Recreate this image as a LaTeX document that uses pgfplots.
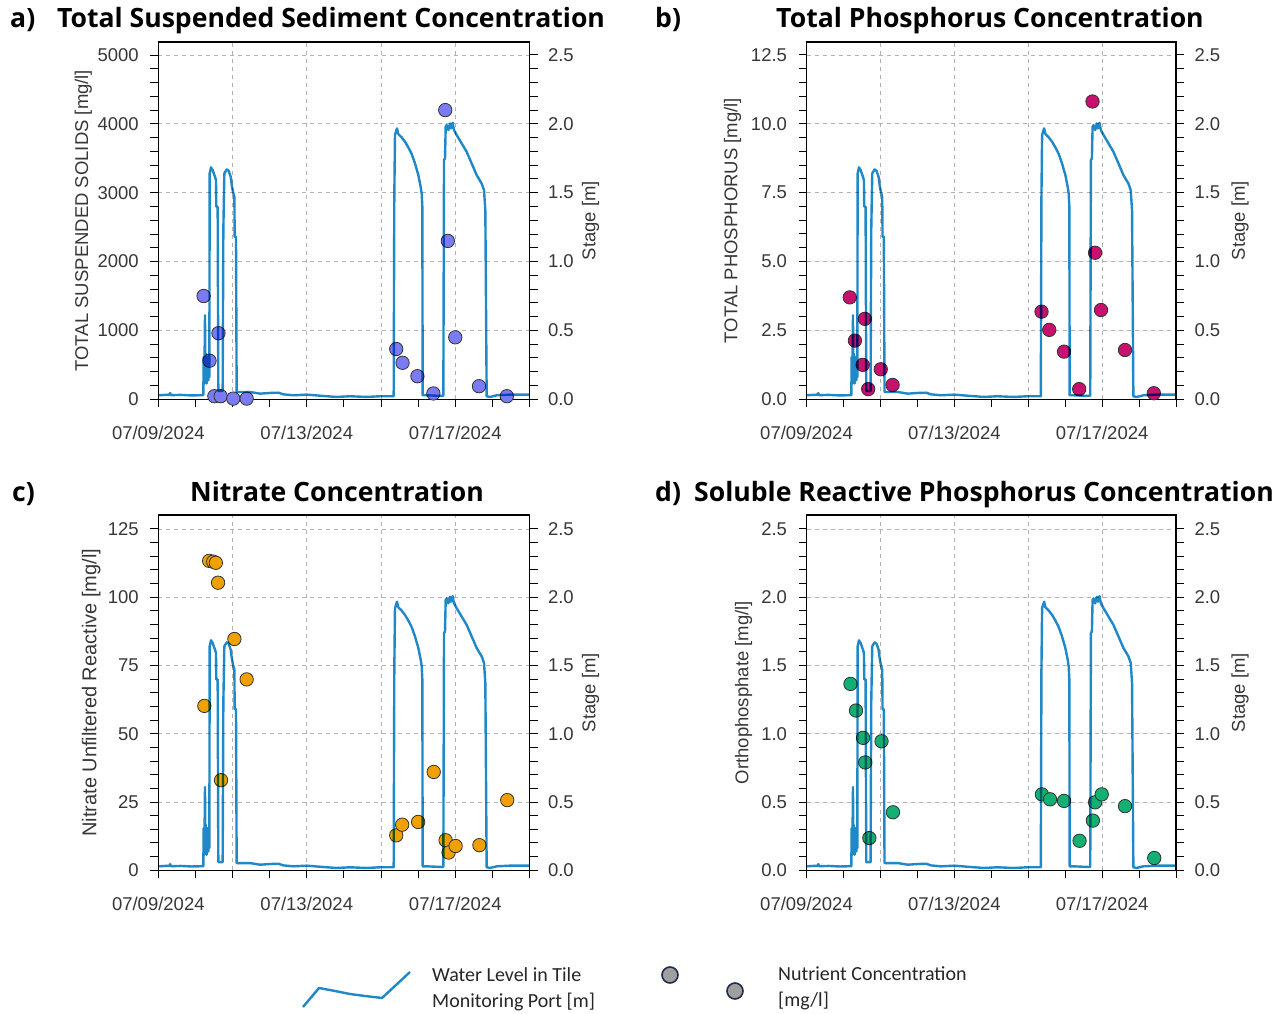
\documentclass[border=0pt]{standalone}
\usepackage{fontspec}
\setmainfont{Liberation Sans}
\newfontfamily\titlefont{Open Sans}
\newfontfamily\legfont{Carlito}
\usepackage{pgfplots}
\pgfplotsset{compat=1.18}
\usepackage{pgfplotstable}

\definecolor{lvl}{RGB}{30,136,200}
\definecolor{ptA}{RGB}{123,123,245}
\definecolor{ptB}{RGB}{200,16,110}
\definecolor{ptC}{RGB}{240,160,0}
\definecolor{ptD}{RGB}{20,175,115}
\definecolor{tickc}{RGB}{55,55,55}

\pgfplotstableread{
day level
0.000 0.029
0.300 0.034
0.320 0.045
0.340 0.030
0.600 0.032
0.900 0.028
1.213 0.030
1.222 0.308
1.240 0.114
1.258 0.610
1.267 0.138
1.285 0.332
1.303 0.114
1.321 0.308
1.348 0.138
1.366 0.283
1.375 0.162
1.384 1.640
1.420 1.684
1.465 1.664
1.527 1.616
1.554 1.592
1.563 1.398
1.599 1.398
1.617 0.060
1.734 0.060
1.752 1.228
1.779 1.640
1.842 1.669
1.896 1.659
1.950 1.616
1.985 1.543
2.022 1.495
2.049 1.470
2.058 1.180
2.093 1.180
2.111 0.053
2.470 0.053
2.740 0.041
3.009 0.046
3.234 0.048
3.368 0.036
3.640 0.029
4.000 0.034
4.446 0.024
4.805 0.017
5.164 0.022
5.613 0.017
5.973 0.022
6.341 0.022
6.358 1.470
6.376 1.919
6.403 1.943
6.430 1.967
6.466 1.926
6.556 1.902
6.646 1.870
6.736 1.829
6.826 1.781
6.915 1.713
7.005 1.628
7.068 1.543
7.095 1.495
7.113 1.398
7.122 0.029
7.230 0.029
7.660 0.024
7.679 0.029
7.697 1.737
7.724 1.749
7.742 1.979
7.768 1.991
7.813 1.955
7.858 2.003
7.885 1.967
7.930 2.008
7.966 1.955
8.038 1.919
8.173 1.858
8.307 1.797
8.442 1.713
8.577 1.628
8.711 1.567
8.774 1.519
8.810 1.374
8.846 0.022
8.936 0.017
9.115 0.029
9.475 0.034
10.000 0.034
}\levelt

\pgfplotstableread{
day val
1.22 1500
1.38 560
1.62 960
1.51 45
1.68 45
2.02 10
2.38 10
6.41 730
6.58 530
6.98 335
7.41 85
7.73 4200
7.80 2300
8.00 900
8.64 190
9.39 45
}\tssT

\pgfplotstableread{
day val
1.17 3.70
1.31 2.13
1.58 2.92
1.52 1.25
1.67 0.37
2.01 1.09
2.33 0.52
6.36 3.18
6.57 2.52
6.97 1.73
7.38 0.37
7.74 10.81
7.81 5.32
7.97 3.24
8.62 1.79
9.40 0.22
}\tpT

\pgfplotstableread{
day val
1.24 60.2
1.37 113.3
1.48 113.0
1.55 112.6
1.61 105.3
1.69 33.0
2.05 84.7
2.38 69.9
6.41 12.8
6.57 16.7
7.00 17.7
7.42 36.0
7.74 11.0
7.82 6.5
8.01 8.9
8.65 9.2
9.40 25.7
}\noT

\pgfplotstableread{
day val
1.19 1.365
1.34 1.17
1.53 0.97
1.59 0.79
1.70 0.236
2.03 0.945
2.34 0.425
6.37 0.556
6.59 0.52
6.97 0.508
7.39 0.216
7.75 0.364
7.81 0.498
7.99 0.556
8.62 0.47
9.41 0.09
}\srpT

\pgfplotsset{
  common/.style={
    scale only axis, xmin=0, xmax=10, ymin=0,
    tick align=outside, major tick length=8pt, minor tick length=8pt,
    every tick/.style={black, line width=1pt},
    tick label style={font=\fontsize{18.5}{22}\selectfont, text=tickc},
    /pgf/number format/assume math mode=true,
    scaled y ticks=false,
    /pgf/number format/1000 sep={},
  },
  panel/.style={common,
    axis line style={line width=1.3pt},
    xtick={0,2,...,10}, minor xtick={1,3,...,9},
    xticklabels={07/09/2024,,07/13/2024,,07/17/2024,},
    xticklabel style={yshift=-15pt},
    yticklabel style={xshift=-8pt},
    xtick pos=bottom, ytick pos=left,
    minor y tick num=4,
    grid=major, major grid style={dash pattern=on 4pt off 4pt, gray!60, line width=0.8pt},
    every axis y label/.style={at={(rel axis cs:0,0.5)}, xshift=-#1, rotate=90, anchor=center,
      font=\fontsize{18.5}{22}\selectfont, text=tickc},
  },
  stage/.style={common,
    hide x axis, axis y line*=right,
    axis line style={line width=1.3pt},
    ytick={0,0.5,...,2.5}, minor y tick num=4,
    yticklabel style={xshift=7pt, /pgf/number format/.cd, fixed, fixed zerofill, precision=1},
    ylabel={Stage [m]},
    every axis y label/.style={at={(rel axis cs:1,0.5)}, xshift=#1, rotate=90, anchor=center,
      font=\fontsize{18.5}{22}\selectfont, text=tickc},
  },
  pts/.style={only marks, mark=*, mark size=6.7pt,
    mark options={fill=#1, draw=black!80, line width=0.8pt}},
  lvlline/.style={lvl, line width=2.4pt, line join=round, blend mode=multiply},
}

\begin{document}
\begin{tikzpicture}[x=1pt,y=1pt]
\path[use as bounding box] (0,0) rectangle (1287,1014);

% ---------- panel a
\begin{axis}[panel=75pt, at={(158.3pt,614.7pt)}, anchor=south west,
  width=371.2pt, height=357.3pt, ymax=5189,
  ytick={0,1000,...,5000}, ylabel={TOTAL SUSPENDED SOLIDS [mg/l]}]
\addplot[pts=ptA] table[x=day,y=val]{\tssT};
\end{axis}
\begin{axis}[stage=61pt, at={(158.3pt,614.7pt)}, anchor=south west,
  width=371.2pt, height=357.3pt, ymax=2.5945]
\addplot[lvlline] table[x=day,y=level]{\levelt};
\end{axis}

% ---------- panel b
\begin{axis}[panel=74pt, at={(806.5pt,614.7pt)}, anchor=south west,
  width=369.5pt, height=357.3pt, ymax=12.97,
  ytick={0,2.5,...,12.5},
  yticklabel style={/pgf/number format/.cd, fixed, fixed zerofill, precision=1},
  ylabel={TOTAL PHOSPHORUS [mg/l]}]
\addplot[pts=ptB] table[x=day,y=val]{\tpT};
\end{axis}
\begin{axis}[stage=64pt, at={(806.5pt,614.7pt)}, anchor=south west,
  width=369.5pt, height=357.3pt, ymax=2.5945]
\addplot[lvlline] table[x=day,y=level]{\levelt};
\end{axis}

% ---------- panel c
\begin{axis}[panel=67pt, at={(158.3pt,143.7pt)}, anchor=south west,
  width=371.2pt, height=355.3pt, ymax=130.1,
  ytick={0,25,...,125}, ylabel={Nitrate Unfiltered Reactive [mg/l]},
  every axis y label/.append style={font=\fontsize{20}{24}\selectfont}]
\addplot[pts=ptC] table[x=day,y=val]{\noT};
\end{axis}
\begin{axis}[stage=61pt, at={(158.3pt,143.7pt)}, anchor=south west,
  width=371.2pt, height=355.3pt, ymax=2.602]
\addplot[lvlline] table[x=day,y=level]{\levelt};
\end{axis}

% ---------- panel d
\begin{axis}[panel=63pt, at={(806.5pt,143.7pt)}, anchor=south west,
  width=369.5pt, height=355.3pt, ymax=2.602,
  ytick={0,0.5,...,2.5},
  yticklabel style={/pgf/number format/.cd, fixed, fixed zerofill, precision=1},
  ylabel={Orthophosphate [mg/l]}]
\addplot[pts=ptD] table[x=day,y=val]{\srpT};
\end{axis}
\begin{axis}[stage=64pt, at={(806.5pt,143.7pt)}, anchor=south west,
  width=369.5pt, height=355.3pt, ymax=2.602]
\addplot[lvlline] table[x=day,y=level]{\levelt};
\end{axis}

% ---------- titles
\begin{scope}[every node/.style={font=\titlefont\bfseries\fontsize{26.6}{31}\selectfont, inner sep=0pt}]
\node[anchor=base west] at (10,986) {a)};
\node[anchor=base] at (331,986) {Total Suspended Sediment Concentration};
\node[anchor=base west] at (655,986) {b)};
\node[anchor=base] at (990,986) {Total Phosphorus Concentration};
\node[anchor=base west] at (12,512.5) {c)};
\node[anchor=base] at (337,512.5) {Nitrate Concentration};
\node[anchor=base west] at (655,512.5) {d)};
\node[anchor=base] at (984,512.5) {Soluble Reactive Phosphorus Concentration};
\end{scope}

% ---------- legend
\begin{axis}[hide axis, scale only axis, clip=false, at={(290pt,0pt)}, anchor=south west,
  width=470pt, height=64pt, xmin=290, xmax=760, ymin=0, ymax=64]
\addplot[lvl, line width=2.4pt, line join=round] coordinates {
  (303,7) (319,26) (335,23) (350,20) (365,18) (382,16) (410,42)};
\addplot[only marks, mark=*, mark size=8pt,
  mark options={fill=gray!75, draw={rgb,255:red,30;green,45;blue,75}, line width=1.6pt}]
  coordinates {(670,39) (735,23)};
\end{axis}
\begin{scope}[every node/.style={font=\legfont\fontsize{20}{24}\selectfont, text=black!85, anchor=west, inner sep=0pt}]
\node at (432,39) {Water Level in Tile};
\node at (432,12) {Monitoring Port [m]};
\node at (778,40) {Nutrient Concentration};
\node at (778,13) {[mg/l]};
\end{scope}
\end{tikzpicture}
\end{document}
